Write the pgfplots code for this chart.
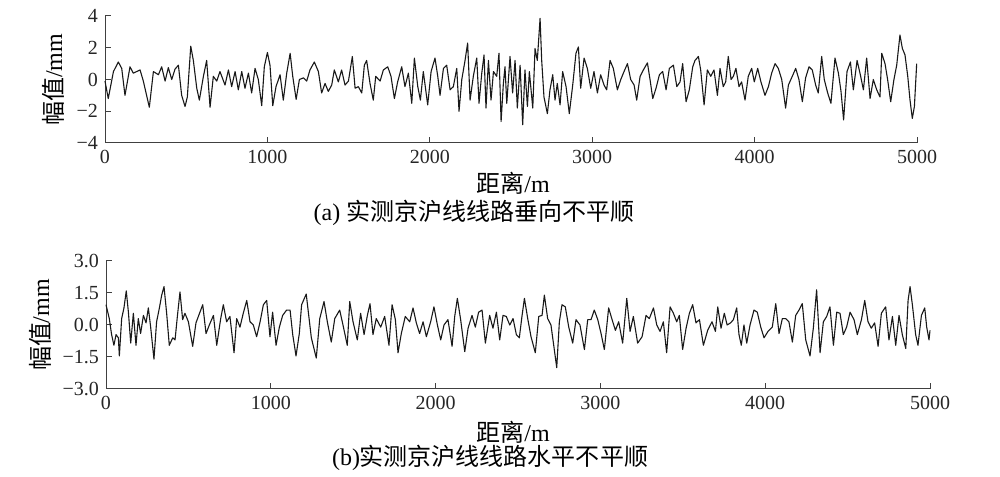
\documentclass[border=0pt]{standalone}
\usepackage{fontspec}
\setmainfont{Liberation Serif}
\newfontfamily\cjk{Noto Sans CJK SC}
\usepackage{pgfplots}
\usepackage{pgfplotstable}
\pgfplotsset{compat=1.18}

% (a) vertical irregularity, distance/m vs amplitude/mm
\pgfplotstableread{
x y
0 -0.1
20 -1.2
52 0.5
82 1.1
103 0.7
123 -1.0
154 0.8
174 0.4
195 0.5
216 0.6
236 -0.1
273 -1.75
298 0.5
329 0.3
349 0.8
370 -0.1
390 0.75
411 0
431 0.65
452 0.9
472 -1.0
493 -1.7
507 -1.1
528 2.1
544 1.2
565 -0.55
581 -1.3
606 0.2
626 1.2
647 -1.75
667 0.2
688 -0.1
708 0.5
739 -0.35
760 0.6
780 -0.45
801 0.5
821 -0.65
842 0.5
862 -0.55
883 0.4
903 -0.85
924 0.7
944 0
965 -1.65
981 0.8
1000 1.7
1016 0.9
1033 -1.65
1053 -0.45
1078 0.3
1098 -1.3
1119 0.4
1140 1.65
1156 0.2
1177 -1.25
1197 0
1222 0.1
1242 -0.1
1262 0.6
1289 1.1
1314 0.5
1334 -0.85
1355 -0.25
1375 -0.75
1396 -0.35
1412 0.6
1437 -0.15
1457 0.6
1478 -0.35
1499 -0.1
1523 1.45
1540 -0.55
1560 -0.45
1581 -0.85
1597 0.9
1611 1.2
1632 -0.25
1652 -1.3
1667 0.2
1694 -0.1
1714 0.6
1741 0.8
1761 0.2
1782 -1.2
1802 -0.15
1827 0.8
1847 -0.45
1868 0.4
1889 -1.5
1905 1.35
1926 -0.45
1942 -1.3
1960 0.5
1987 -1.6
2008 0.5
2032 1.35
2049 0.2
2063 -1.0
2084 0.7
2104 0.9
2125 -0.65
2145 -0.45
2166 0.7
2180 -2.0
2197 0
2217 1.2
2233 2.3
2248 -1.3
2268 0.2
2289 1.35
2303 -1.5
2320 0.4
2334 1.55
2346 -1.8
2361 1.2
2377 -1.3
2392 0.5
2412 0.2
2426 1.65
2439 -2.65
2453 -0.25
2463 0.8
2474 -1.5
2494 1.45
2510 -0.85
2525 1.2
2539 -1.8
2556 0.9
2572 -2.85
2586 0.6
2601 -1.7
2613 0.5
2634 -1.8
2648 1.95
2662 1.2
2679 3.85
2689 1.2
2703 -1.1
2724 -2.15
2740 -0.65
2757 0.3
2771 -1.3
2785 -0.25
2802 -1.6
2818 0.5
2839 -0.45
2859 -2.15
2880 -0.35
2900 1.65
2915 2.05
2929 -0.55
2950 1.35
2970 0.7
2991 -0.55
3011 0.5
3032 -0.85
3052 0.3
3073 -0.35
3089 -0.65
3110 1.2
3130 0.7
3155 -0.65
3176 0
3196 0.5
3217 1.0
3237 0
3258 -0.35
3274 -1.3
3295 0.2
3315 0.6
3340 1.05
3356 0
3373 -1.2
3393 -0.55
3414 0.3
3434 0.5
3455 -0.65
3475 0.7
3500 0.9
3521 -0.45
3541 -0.15
3557 1.0
3578 -1.4
3598 -0.65
3619 0.8
3633 1.2
3654 1.45
3668 0.6
3689 -1.6
3709 0.6
3730 0.2
3750 0.6
3771 -1.0
3787 0.7
3807 -0.45
3822 -0.15
3838 1.45
3855 0
3869 0.2
3885 0.7
3904 -0.45
3920 -0.15
3941 -1.3
3961 0.2
3982 0.7
3998 -0.15
4019 0.7
4039 -0.15
4064 -1.0
4085 -0.45
4105 0.4
4126 1.0
4146 0.7
4167 0
4191 -1.8
4208 -0.35
4232 0.2
4253 0.7
4273 0
4294 -1.4
4314 0.1
4335 0.8
4355 0.6
4376 -0.35
4392 -0.85
4413 1.45
4429 0
4450 -0.85
4470 -1.5
4495 1.35
4516 0.4
4532 -0.75
4548 -2.55
4569 0.5
4590 1.1
4608 -0.65
4631 1.2
4651 0.3
4670 -0.65
4690 1.35
4711 -1.2
4731 0
4752 -0.65
4772 -1.1
4783 1.65
4803 1.0
4819 0
4838 -1.4
4858 0
4875 0.9
4895 2.8
4910 1.95
4926 1.55
4943 0.2
4957 -1.3
4971 -2.45
4984 -1.7
4998 1.0
}\vertdata

% (b) cross-level irregularity
\pgfplotstableread{
x y
0 0.95
20 0.3
34 -0.45
48 -0.95
61 -0.45
75 -0.6
81 -1.45
95 0.3
109 0.8
123 1.6
136 0.6
150 -0.85
166 0.55
182 -0.95
196 0.3
210 -0.4
227 0.45
243 0.1
257 0.8
271 -0.1
291 -1.6
307 0.15
324 0.8
338 1.4
352 1.8
368 0.55
384 -0.95
405 -0.6
419 -0.7
433 0.4
449 1.55
465 0.25
479 0.55
500 0.15
526 -1.0
546 0.1
570 0.6
587 0.95
607 -0.4
627 0
652 0.45
672 -0.95
696 0.3
712 0.95
732 0.15
752 0.4
777 -1.3
793 0.3
813 -0.1
833 0.55
854 1.15
874 0.15
894 0
914 -0.55
935 0.15
955 0.95
975 1.15
995 -0.55
1011 0.6
1032 -0.95
1052 -0.1
1072 0.45
1096 0.7
1117 0.7
1133 -0.45
1153 -1.45
1173 -0.4
1187 0.95
1215 1.45
1246 -0.6
1276 -1.55
1297 0.3
1323 1.1
1343 0.15
1367 -0.8
1388 0.3
1418 0.7
1438 0
1464 -0.95
1479 1.1
1499 0.15
1525 -0.7
1545 0.55
1566 -0.45
1586 0.45
1602 1.0
1620 -0.45
1640 0.3
1667 -0.1
1691 0.4
1717 -0.95
1736 0.95
1756 0.25
1772 -1.3
1792 -0.4
1816 0.4
1843 0.15
1863 0.8
1883 0.1
1903 -0.4
1924 0.15
1944 -0.55
1970 0.15
1990 0.85
2011 0
2031 -0.7
2051 0
2075 0.25
2100 -1.0
2116 0.4
2132 1.25
2152 0.25
2177 -1.25
2197 -0.15
2221 0.45
2241 -0.1
2261 0.6
2282 0.7
2302 -0.85
2328 0.45
2348 -0.15
2369 0.6
2389 -0.7
2409 0.45
2429 0.4
2450 0
2470 0.3
2490 -0.45
2508 -0.6
2524 0.4
2539 1.25
2559 0.3
2579 -0.55
2605 -1.3
2626 0.4
2646 0.45
2660 1.4
2680 0.3
2700 0
2715 -0.85
2735 -2.0
2751 0.15
2767 0.95
2787 0.85
2808 -0.1
2832 -0.85
2852 0.25
2876 0
2903 -1.15
2923 0.25
2943 0.25
2963 0.7
2984 0.25
3004 -0.4
3024 -1.15
3050 0.8
3071 0.25
3091 -0.25
3111 0.15
3135 -0.85
3160 1.25
3180 -0.3
3200 0.4
3226 -0.85
3253 -0.55
3277 0.45
3297 0.3
3322 0.8
3342 0
3362 -0.3
3382 0.15
3402 -1.3
3423 0.85
3443 0.55
3463 0.15
3479 0.45
3499 -1.15
3520 -0.15
3540 0.55
3560 0.95
3580 0.1
3601 0.25
3625 -0.95
3651 -0.25
3677 0.15
3698 -0.3
3712 0.85
3732 -0.15
3752 0.55
3769 0
3790 0.1
3807 0.25
3827 0.8
3841 -0.45
3855 -0.95
3871 0
3888 -0.85
3908 0
3932 0.7
3952 0.6
3973 -0.1
3993 -0.6
4017 -0.3
4043 -0.1
4064 1.0
4084 -0.4
4104 0.3
4124 0.3
4144 0.15
4165 -0.8
4185 0.45
4205 0.7
4225 1.0
4246 -0.7
4272 -1.45
4292 -0.15
4312 1.65
4333 -1.3
4353 0.15
4373 0.4
4393 0.85
4414 -0.95
4434 0.6
4454 0.55
4474 -0.45
4494 -0.1
4515 0.6
4539 0.25
4559 -0.45
4584 0.25
4604 1.15
4624 0.15
4644 -0.15
4664 0.1
4685 -1.0
4705 0.55
4731 0.85
4751 -0.7
4772 0.4
4792 -0.95
4812 0.45
4832 -0.45
4853 -1.1
4867 1.15
4879 1.8
4893 0.95
4913 -0.45
4927 -0.95
4948 0.45
4968 0.8
4980 -0.1
4994 -0.7
5000 -0.25
}\leveldata

\pgfplotsset{
  trackaxis/.style={
    scale only axis,
    xmin=0, xmax=5000,
    axis lines*=left,
    tick align=inside,
    major tick length=3pt,
    axis line style={line width=0.5pt, black!75},
    every tick/.style={black!75, line width=0.5pt},
    xtick={0,1000,2000,3000,4000,5000},
    xticklabels={0,1000,2000,3000,4000,5000},
    tick label style={font=\fontsize{10}{12}\selectfont, black!85},
    clip=false,
  },
}

\begin{document}
\begin{tikzpicture}[x=1pt,y=1pt]
\path[use as bounding box] (0,0) rectangle (500,238);

\begin{axis}[trackaxis, at={(52.5pt,166.5pt)}, anchor=south west,
  width=406pt, height=63.5pt,
  ymin=-4, ymax=4, ytick={-4,-2,0,2,4}, yticklabels={−4,−2,0,2,4}]
\addplot[black!90, line width=0.55pt, line join=round] table {\vertdata};
\end{axis}

\begin{axis}[trackaxis, at={(53pt,43.5pt)}, anchor=south west,
  width=412pt, height=64pt,
  ymin=-3, ymax=3, ytick={-3,-1.5,0,1.5,3}, yticklabels={−3.0,−1.5,0.0,1.5,3.0}]
\addplot[black!90, line width=0.55pt, line join=round] table {\leveldata};
\end{axis}

\node[rotate=90, font=\fontsize{12}{14}\selectfont] at (26.5,198) {{\cjk 幅值}/mm};
\node[font=\fontsize{12}{14}\selectfont] at (256.5,146.5) {{\cjk 距离}/m};
\node[font=\fontsize{12}{14}\selectfont] at (237,131.5) {(a) {\cjk 实测京沪线线路垂向不平顺}};

\node[rotate=90, font=\fontsize{12}{14}\selectfont] at (20,75.5) {{\cjk 幅值}/mm};
\node[font=\fontsize{12}{14}\selectfont] at (256.5,22) {{\cjk 距离}/m};
\node[font=\fontsize{12}{14}\selectfont] at (245,9) {(b){\cjk 实测京沪线线路水平不平顺}};
\end{tikzpicture}
\end{document}
